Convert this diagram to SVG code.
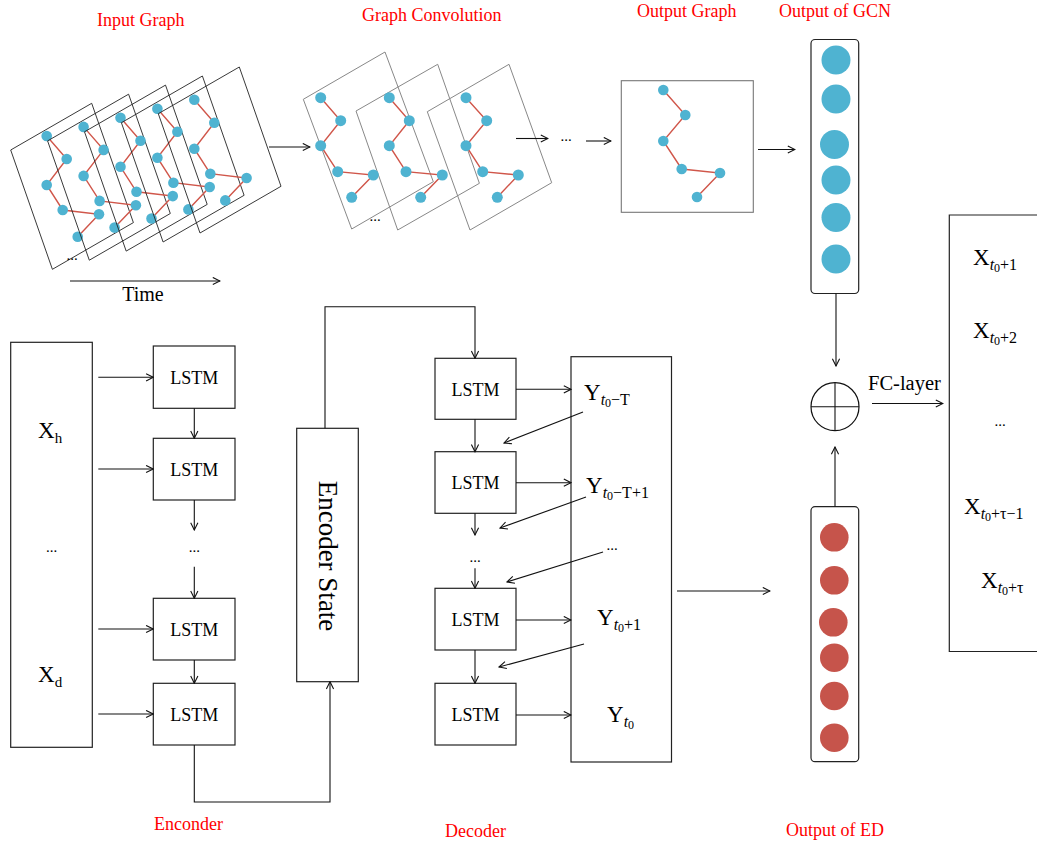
<svg xmlns="http://www.w3.org/2000/svg" width="1037" height="843" viewBox="0 0 1037 843">
  <style>
    .lbl { font-family: "Liberation Serif", "Times New Roman", serif; font-size: 18px; fill: #ff0000; }
    .txt { font-family: "Liberation Serif", "Times New Roman", serif; fill: #000; }
    .box { fill: #fff; stroke: #222; stroke-width: 1.2; }
    .frame { fill: none; stroke: #222; stroke-width: 0.9; }
    .gframe { fill: none; stroke: #888; stroke-width: 1; }
    .edge { stroke: #d0564a; stroke-width: 1.4; fill: none; }
    .node { fill: #4fb3d1; }
    .rnode { fill: #c6544b; }
    .conn { stroke: #111; stroke-width: 1.1; fill: none; }
    .arr { marker-end: url(#ah); }
    .sub { font-size: 16px; }
    .sub0 { font-size: 12px; }
  </style>
  <defs>
    <marker id="ah" viewBox="0 0 10 10" refX="9" refY="5" markerWidth="9" markerHeight="9" markerUnits="userSpaceOnUse" orient="auto">
      <path d="M1,1 L9,5 L1,9" fill="none" stroke="#111" stroke-width="1.2"/>
    </marker>
    <!-- one time-step graph, relative to its frame corner -->
    <g id="snap">
      <polygon class="frame" points="0,0 81,-46.7 122.7,72.6 41.7,119.3"/>
      <polyline class="edge" points="36,-14 56,9 36,35 52,60 88.3,64.3 67,86.7"/>
      <circle class="node" cx="36" cy="-14" r="5.3"/>
      <circle class="node" cx="56" cy="9" r="5.3"/>
      <circle class="node" cx="36" cy="35" r="5.3"/>
      <circle class="node" cx="52" cy="60" r="5.3"/>
      <circle class="node" cx="88.3" cy="64.3" r="5.3"/>
      <circle class="node" cx="67" cy="86.7" r="5.3"/>
    </g>
  </defs>

  <rect width="1037" height="843" fill="#fff"/>

  <!-- section titles -->
  <text class="lbl" x="97" y="26">Input Graph</text>
  <text class="lbl" x="362" y="21">Graph Convolution</text>
  <text class="lbl" x="637" y="17">Output Graph</text>
  <text class="lbl" x="779" y="17">Output of GCN</text>
  <text class="lbl" x="154" y="830">Enconder</text>
  <text class="lbl" x="445" y="837">Decoder</text>
  <text class="lbl" x="786" y="836">Output of ED</text>

  <!-- input graph sequence -->
  <g id="input-graph">
    <use href="#snap" x="10.7" y="150"/>
    <use href="#snap" x="47.6" y="140.9"/>
    <use href="#snap" x="84.5" y="131.8"/>
    <use href="#snap" x="121.4" y="122.7"/>
    <use href="#snap" x="158.3" y="113.7"/>
    <text class="txt" x="72" y="260" font-size="15" text-anchor="middle">...</text>
  </g>

  <!-- graph convolution stack -->
  <g id="graph-convolution">
    <polygon class="gframe" points="303.3,99.3 385,52 433.3,181.7 351.7,229"/>
    <polygon class="gframe" points="356,111 437.7,64.3 479.4,183.3 397.7,230"/>
    <polygon class="gframe" points="427.3,111.7 509,64.3 551.7,182.7 470,230"/>
    <polyline class="edge" points="320.7,97.7 340.7,120.7 320.7,145.7 337.7,171.7 373.3,175 351.7,197.3"/>
    <polyline class="edge" points="389.3,97.7 409.3,120.7 389.3,145.7 406,171.7 442.3,175 420.7,197.3"/>
    <polyline class="edge" points="466,97.7 486.7,120.7 466,145.7 482.7,171.7 518.3,175 497.3,197.3"/>
    <g class="node">
      <circle cx="320.7" cy="97.7" r="5.5"/><circle cx="340.7" cy="120.7" r="5.5"/><circle cx="320.7" cy="145.7" r="5.5"/>
      <circle cx="337.7" cy="171.7" r="5.5"/><circle cx="373.3" cy="175" r="5.5"/><circle cx="351.7" cy="197.3" r="5.5"/>
      <circle cx="389.3" cy="97.7" r="5.5"/><circle cx="409.3" cy="120.7" r="5.5"/><circle cx="389.3" cy="145.7" r="5.5"/>
      <circle cx="406" cy="171.7" r="5.5"/><circle cx="442.3" cy="175" r="5.5"/><circle cx="420.7" cy="197.3" r="5.5"/>
      <circle cx="466" cy="97.7" r="5.5"/><circle cx="486.7" cy="120.7" r="5.5"/><circle cx="466" cy="145.7" r="5.5"/>
      <circle cx="482.7" cy="171.7" r="5.5"/><circle cx="518.3" cy="175" r="5.5"/><circle cx="497.3" cy="197.3" r="5.5"/>
    </g>
    <text class="txt" x="375" y="221" font-size="15" text-anchor="middle">...</text>
  </g>

  <!-- output graph -->
  <g id="output-graph">
    <rect x="621.3" y="80.7" width="132" height="131.6" fill="none" stroke="#777" stroke-width="1.1"/>
    <polyline class="edge" points="663.3,90 685.3,115 663.3,141 681.7,169 720,173 697,197" stroke-width="1.2"/>
    <g class="node">
      <circle cx="663.3" cy="90" r="5.3"/><circle cx="685.3" cy="115" r="5.3"/><circle cx="663.3" cy="141" r="5.3"/>
      <circle cx="681.7" cy="169" r="5.3"/><circle cx="720" cy="173" r="5.3"/><circle cx="697" cy="197" r="5.3"/>
    </g>
  </g>

  <!-- GCN output vector -->
  <g id="gcn-output">
    <rect x="811" y="39.5" width="47.7" height="254" rx="4" fill="#fff" stroke="#222" stroke-width="1.2"/>
    <g class="node">
      <circle cx="836" cy="60" r="14.5"/><circle cx="836" cy="99" r="14.5"/><circle cx="834.5" cy="144.5" r="14.5"/>
      <circle cx="836" cy="180" r="14.5"/><circle cx="836" cy="217.5" r="14.5"/><circle cx="836" cy="259" r="14.5"/>
    </g>
  </g>

  <!-- encoder-decoder output vector -->
  <g id="ed-output">
    <rect x="811" y="506.7" width="47.7" height="255" rx="4" fill="#fff" stroke="#222" stroke-width="1.2"/>
    <g class="rnode">
      <circle cx="834.3" cy="537.3" r="14.3"/><circle cx="834.3" cy="580.3" r="14.3"/><circle cx="833.3" cy="622.3" r="14.3"/>
      <circle cx="834.3" cy="657.7" r="14.3"/><circle cx="834.3" cy="696" r="14.3"/><circle cx="834.3" cy="737.7" r="14.3"/>
    </g>
  </g>

  <!-- fusion -->
  <g id="sum">
    <circle cx="835" cy="406.7" r="24" fill="#fff" stroke="#111" stroke-width="1.2"/>
    <line class="conn" x1="811" y1="406.7" x2="859" y2="406.7"/>
    <line class="conn" x1="835" y1="382.7" x2="835" y2="430.7"/>
  </g>
  <text class="txt" x="868" y="390" font-size="20.5">FC-layer</text>

  <!-- prediction output -->
  <g id="prediction">
    <polyline points="1040,215 949.3,215 949.3,651.5 1040,651.5" fill="#fff" stroke="#222" stroke-width="1.2"/>
    <text class="txt" x="973" y="265" font-size="23">X<tspan class="sub" font-style="italic" dy="5">t</tspan><tspan class="sub0" dy="2">0</tspan><tspan class="sub" dy="-2">+1</tspan></text>
    <text class="txt" x="973" y="338" font-size="23">X<tspan class="sub" font-style="italic" dy="5">t</tspan><tspan class="sub0" dy="2">0</tspan><tspan class="sub" dy="-2">+2</tspan></text>
    <text class="txt" x="1000" y="426" font-size="15" text-anchor="middle">...</text>
    <text class="txt" x="964" y="514" font-size="23">X<tspan class="sub" font-style="italic" dy="5">t</tspan><tspan class="sub0" dy="2">0</tspan><tspan class="sub" dy="-2">+τ−1</tspan></text>
    <text class="txt" x="981" y="588" font-size="23">X<tspan class="sub" font-style="italic" dy="5">t</tspan><tspan class="sub0" dy="2">0</tspan><tspan class="sub" dy="-2">+τ</tspan></text>
  </g>

  <!-- encoder -->
  <g id="input-seq">
    <rect class="box" x="10.7" y="342.3" width="81.6" height="405"/>
    <text class="txt" x="38" y="438" font-size="23">X<tspan font-size="15" dy="5">h</tspan></text>
    <text class="txt" x="51.5" y="552" font-size="15" text-anchor="middle">...</text>
    <text class="txt" x="38" y="682" font-size="23">X<tspan font-size="15" dy="5">d</tspan></text>
  </g>
  <g id="enc-lstm-1"><rect class="box" x="153.3" y="346" width="81.7" height="62.3"/><text class="txt" x="194.2" y="383.5" font-size="18" text-anchor="middle">LSTM</text></g>
  <g id="enc-lstm-2"><rect class="box" x="153.3" y="438.3" width="81.7" height="61.7"/><text class="txt" x="194.2" y="475.5" font-size="18" text-anchor="middle">LSTM</text></g>
  <text class="txt" x="194.3" y="552" font-size="15" text-anchor="middle">...</text>
  <g id="enc-lstm-3"><rect class="box" x="153.3" y="598.3" width="81.7" height="61.7"/><text class="txt" x="194.2" y="635.5" font-size="18" text-anchor="middle">LSTM</text></g>
  <g id="enc-lstm-4"><rect class="box" x="153.3" y="683.3" width="81.7" height="61.7"/><text class="txt" x="194.2" y="720.5" font-size="18" text-anchor="middle">LSTM</text></g>

  <g id="encoder-state">
    <rect class="box" x="296.7" y="428.3" width="61.6" height="253.4"/>
    <text class="txt" x="0" y="0" font-size="27" text-anchor="middle" dominant-baseline="central" transform="translate(327.5,556) rotate(90)">Encoder State</text>
  </g>

  <!-- decoder -->
  <g id="dec-lstm-1"><rect class="box" x="435" y="358.3" width="81" height="61"/><text class="txt" x="475.5" y="395.5" font-size="18" text-anchor="middle">LSTM</text></g>
  <g id="dec-lstm-2"><rect class="box" x="435" y="451.7" width="81" height="61.6"/><text class="txt" x="475.5" y="489" font-size="18" text-anchor="middle">LSTM</text></g>
  <text class="txt" x="475" y="562" font-size="15" text-anchor="middle">...</text>
  <g id="dec-lstm-3"><rect class="box" x="435" y="588.3" width="81" height="61.7"/><text class="txt" x="475.5" y="626" font-size="18" text-anchor="middle">LSTM</text></g>
  <g id="dec-lstm-4"><rect class="box" x="435" y="683.3" width="81" height="61.7"/><text class="txt" x="475.5" y="721" font-size="18" text-anchor="middle">LSTM</text></g>

  <g id="decoder-output">
    <rect class="box" x="571" y="356.7" width="100.5" height="405.3"/>
    <text class="txt" x="584" y="400" font-size="23">Y<tspan class="sub" font-style="italic" dy="5">t</tspan><tspan class="sub0" dy="2">0</tspan><tspan class="sub" dy="-2">−T</tspan></text>
    <text class="txt" x="586" y="493" font-size="23">Y<tspan class="sub" font-style="italic" dy="5">t</tspan><tspan class="sub0" dy="2">0</tspan><tspan class="sub" dy="-2">−T+1</tspan></text>
    <text class="txt" x="612" y="550" font-size="15" text-anchor="middle">...</text>
    <text class="txt" x="597" y="625" font-size="23">Y<tspan class="sub" font-style="italic" dy="5">t</tspan><tspan class="sub0" dy="2">0</tspan><tspan class="sub" dy="-2">+1</tspan></text>
    <text class="txt" x="607" y="722" font-size="23">Y<tspan class="sub" font-style="italic" dy="5">t</tspan><tspan class="sub0" dy="2">0</tspan></text>
  </g>

  <!-- connectors -->
  <g id="connectors">
    <line class="conn arr" x1="70" y1="281" x2="220" y2="281"/>
    <text class="txt" x="143" y="301" font-size="20" text-anchor="middle">Time</text>
    <line class="conn arr" x1="269" y1="147" x2="310" y2="147"/>
    <line class="conn arr" x1="516" y1="138.5" x2="548" y2="138.5"/>
    <text class="txt" x="566" y="141" font-size="15" text-anchor="middle">...</text>
    <line class="conn arr" x1="586" y1="141" x2="611" y2="141"/>
    <line class="conn arr" x1="758" y1="149.5" x2="795" y2="149.5"/>
    <line class="conn arr" x1="836" y1="293.5" x2="836" y2="366"/>
    <line class="conn arr" x1="835" y1="506.7" x2="835" y2="447"/>
    <line class="conn arr" x1="872" y1="403.5" x2="943" y2="403.5"/>
    <line class="conn arr" x1="677" y1="591" x2="770" y2="591"/>

    <!-- encoder inputs -->
    <line class="conn arr" x1="98.3" y1="377.3" x2="153.3" y2="377.3"/>
    <line class="conn arr" x1="98.3" y1="469" x2="153.3" y2="469"/>
    <line class="conn arr" x1="98.3" y1="629" x2="153.3" y2="629"/>
    <line class="conn arr" x1="98.3" y1="714" x2="153.3" y2="714"/>
    <!-- encoder chain -->
    <line class="conn arr" x1="194.3" y1="408.3" x2="194.3" y2="438.3"/>
    <line class="conn arr" x1="194.3" y1="500" x2="194.3" y2="530"/>
    <line class="conn arr" x1="194.3" y1="566.7" x2="194.3" y2="598.3"/>
    <line class="conn arr" x1="194.3" y1="660" x2="194.3" y2="683.3"/>
    <polyline class="conn arr" points="194.3,745 194.3,802 330,802 330,681.7"/>
    <!-- state into decoder -->
    <polyline class="conn arr" points="325,428.3 325,306.7 475,306.7 475,358.3"/>
    <!-- decoder chain -->
    <line class="conn arr" x1="475" y1="419.3" x2="475" y2="451.7"/>
    <line class="conn arr" x1="475" y1="513.3" x2="475" y2="535"/>
    <line class="conn arr" x1="475" y1="568.3" x2="475" y2="588.3"/>
    <line class="conn arr" x1="475" y1="650" x2="475" y2="683.3"/>
    <!-- decoder outputs -->
    <line class="conn arr" x1="516" y1="389.3" x2="571" y2="389.3"/>
    <line class="conn arr" x1="516" y1="482.7" x2="571" y2="482.7"/>
    <line class="conn arr" x1="516" y1="620" x2="571" y2="620"/>
    <line class="conn arr" x1="516" y1="715" x2="571" y2="715"/>
    <!-- feedback -->
    <line class="conn arr" x1="583" y1="412" x2="504" y2="443"/>
    <line class="conn arr" x1="586" y1="497" x2="500" y2="528"/>
    <line class="conn arr" x1="603" y1="552" x2="507" y2="582"/>
    <line class="conn arr" x1="584" y1="644" x2="499" y2="667"/>
  </g>
</svg>
